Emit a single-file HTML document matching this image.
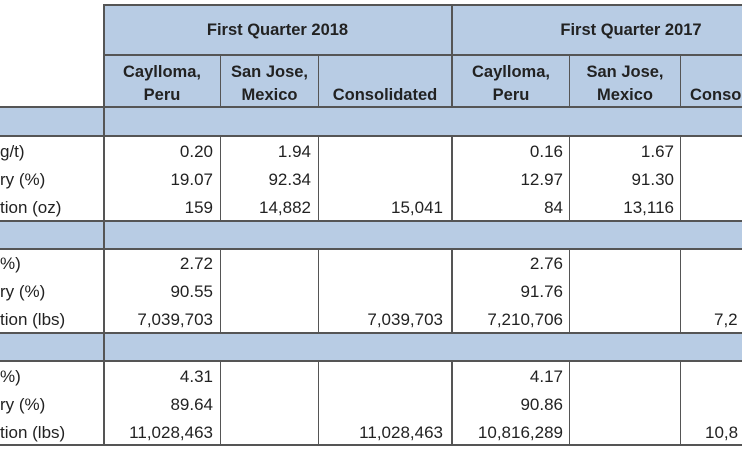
<!DOCTYPE html>
<html><head><style>
body{margin:0;width:742px;height:449px;overflow:hidden;background:#fff;font-family:"Liberation Sans",sans-serif;color:#222;position:relative}
div{position:absolute}
.b{background:#b8cce4}
.v{width:1px;background:#555}
.h{height:2px;background:#555}
.t{font-size:17px;white-space:nowrap;line-height:20px}
.r{text-align:right}
.hd{font-weight:bold;font-size:16.5px;text-align:center;line-height:23px;white-space:nowrap}
</style></head><body>
<div class="b" style="left:104px;top:5px;width:638px;height:102px"></div>
<div class="b" style="left:0;top:107px;width:742px;height:29px"></div>
<div class="b" style="left:0;top:221px;width:742px;height:28px"></div>
<div class="b" style="left:0;top:333px;width:742px;height:28px"></div>
<div class="h" style="left:104px;top:4px;width:638px"></div>
<div class="h" style="left:104px;top:54px;width:638px"></div>
<div class="h" style="left:0;top:106px;width:742px"></div>
<div class="h" style="left:0;top:135px;width:742px"></div>
<div class="h" style="left:0;top:220px;width:742px"></div>
<div class="h" style="left:0;top:248px;width:742px"></div>
<div class="h" style="left:0;top:332px;width:742px"></div>
<div class="h" style="left:0;top:360px;width:742px"></div>
<div class="h" style="left:0;top:444px;width:742px"></div>
<div class="v" style="left:103px;top:4px;height:442px;width:2px"></div>
<div class="v" style="left:451px;top:4px;height:103px;width:2px"></div>
<div class="v" style="left:220px;top:55px;height:52px"></div>
<div class="v" style="left:318px;top:55px;height:52px"></div>
<div class="v" style="left:569px;top:55px;height:52px"></div>
<div class="v" style="left:680px;top:55px;height:52px"></div>
<div class="v" style="left:220px;top:136px;height:85px"></div><div class="v" style="left:318px;top:136px;height:85px"></div><div class="v" style="left:451px;top:136px;height:85px;width:2px"></div><div class="v" style="left:569px;top:136px;height:85px"></div><div class="v" style="left:680px;top:136px;height:85px"></div>
<div class="v" style="left:220px;top:249px;height:84px"></div><div class="v" style="left:318px;top:249px;height:84px"></div><div class="v" style="left:451px;top:249px;height:84px;width:2px"></div><div class="v" style="left:569px;top:249px;height:84px"></div><div class="v" style="left:680px;top:249px;height:84px"></div>
<div class="v" style="left:220px;top:361px;height:84px"></div><div class="v" style="left:318px;top:361px;height:84px"></div><div class="v" style="left:451px;top:361px;height:84px;width:2px"></div><div class="v" style="left:569px;top:361px;height:84px"></div><div class="v" style="left:680px;top:361px;height:84px"></div>

<div class="hd" style="left:104px;top:19px;width:347px">First Quarter 2018</div>
<div class="hd" style="left:540px;top:19px;width:182px">First Quarter 2017</div>
<div class="hd" style="left:104px;top:61px;width:116px">Caylloma,<br>Peru</div>
<div class="hd" style="left:221px;top:61px;width:97px">San Jose,<br>Mexico</div>
<div class="hd" style="left:319px;top:84px;width:132px">Consolidated</div>
<div class="hd" style="left:453px;top:61px;width:116px">Caylloma,<br>Peru</div>
<div class="hd" style="left:570px;top:61px;width:110px">San Jose,<br>Mexico</div>
<div class="hd" style="left:690px;top:84px;text-align:left">Conso</div>

<div class="t" style="left:0;top:142px">g/t)</div>
<div class="t" style="left:0;top:170px">ry (%)</div>
<div class="t" style="left:0;top:198px">tion (oz)</div>
<div class="t" style="left:0;top:254px">%)</div>
<div class="t" style="left:0;top:282px">ry (%)</div>
<div class="t" style="left:0;top:310px">tion (lbs)</div>
<div class="t" style="left:0;top:367px">%)</div>
<div class="t" style="left:0;top:395px">ry (%)</div>
<div class="t" style="left:0;top:423px">tion (lbs)</div>

<div class="t r" style="right:529px;top:142px">0.20</div>
<div class="t r" style="right:529px;top:170px">19.07</div>
<div class="t r" style="right:529px;top:198px">159</div>
<div class="t r" style="right:431px;top:142px">1.94</div>
<div class="t r" style="right:431px;top:170px">92.34</div>
<div class="t r" style="right:431px;top:198px">14,882</div>
<div class="t r" style="right:299px;top:198px">15,041</div>
<div class="t r" style="right:179px;top:142px">0.16</div>
<div class="t r" style="right:179px;top:170px">12.97</div>
<div class="t r" style="right:179px;top:198px">84</div>
<div class="t r" style="right:68px;top:142px">1.67</div>
<div class="t r" style="right:68px;top:170px">91.30</div>
<div class="t r" style="right:68px;top:198px">13,116</div>

<div class="t r" style="right:529px;top:254px">2.72</div>
<div class="t r" style="right:529px;top:282px">90.55</div>
<div class="t r" style="right:529px;top:310px">7,039,703</div>
<div class="t r" style="right:299px;top:310px">7,039,703</div>
<div class="t r" style="right:179px;top:254px">2.76</div>
<div class="t r" style="right:179px;top:282px">91.76</div>
<div class="t r" style="right:179px;top:310px">7,210,706</div>
<div class="t" style="left:714px;top:310px">7,2</div>

<div class="t r" style="right:529px;top:367px">4.31</div>
<div class="t r" style="right:529px;top:395px">89.64</div>
<div class="t r" style="right:529px;top:423px">11,028,463</div>
<div class="t r" style="right:299px;top:423px">11,028,463</div>
<div class="t r" style="right:179px;top:367px">4.17</div>
<div class="t r" style="right:179px;top:395px">90.86</div>
<div class="t r" style="right:179px;top:423px">10,816,289</div>
<div class="t" style="left:705px;top:423px">10,8</div>
</body></html>
